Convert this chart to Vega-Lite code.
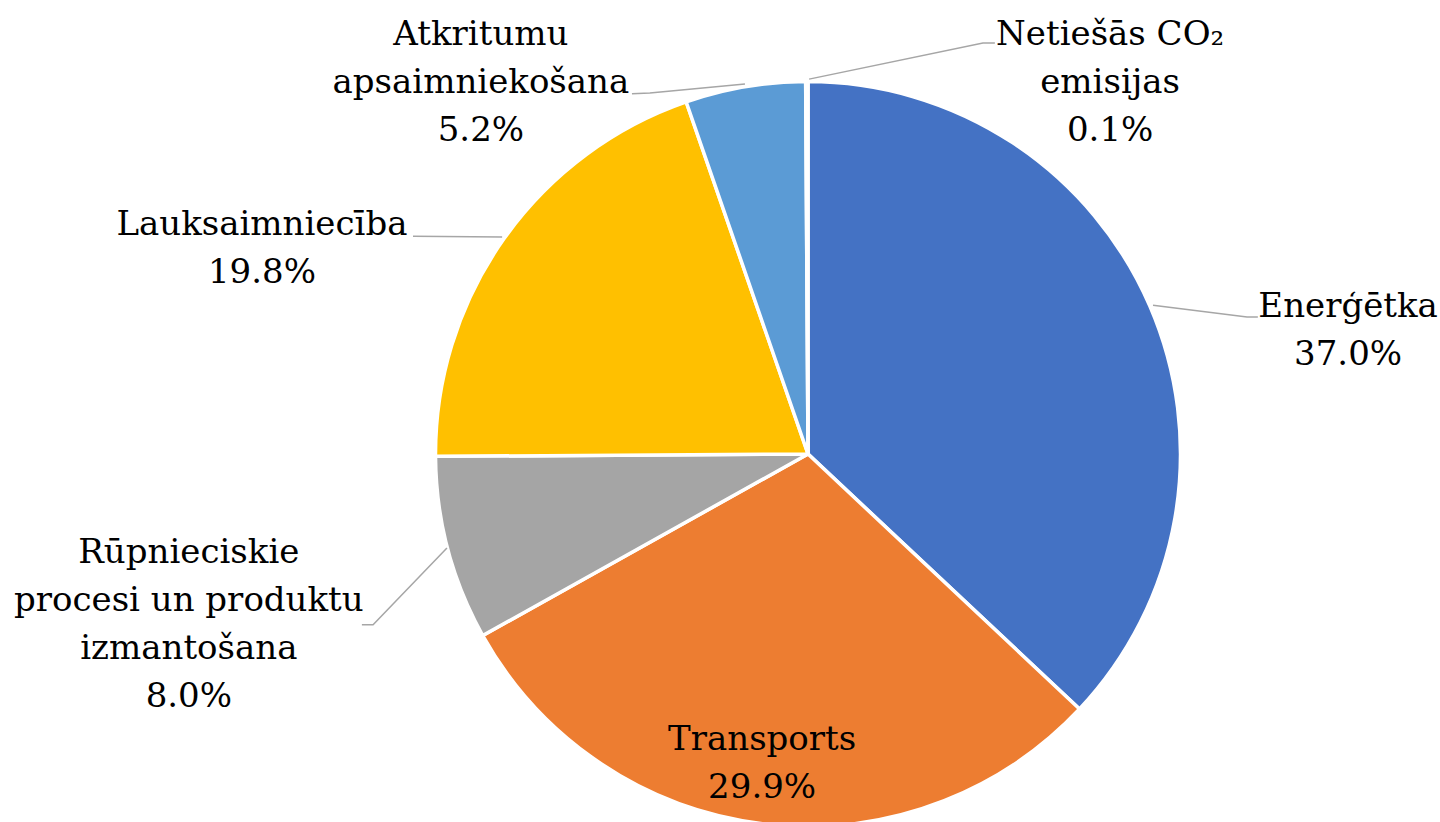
{
  "$schema": "https://vega.github.io/schema/vega-lite/v6.json",
  "width": 1440,
  "height": 822,
  "autosize": "none",
  "padding": 0,
  "background": "white",
  "config": {"view": {"stroke": null}, "font": "DejaVu Serif", "text": {"font": "DejaVu Serif"}},
  "datasets": {
    "sectors": [
      {"idx": 1, "cat": "Enerģētka", "value": 37.0, "label": "Enerģētka\n37.0%", "lx": 1.448, "ly": 0.367},
      {"idx": 2, "cat": "Transports", "value": 29.9, "label": "Transports\n29.9%", "lx": -0.123, "ly": -0.794},
      {"idx": 3, "cat": "Rūpnieciskie procesi un produktu izmantošana", "value": 8.0, "label": "Rūpnieciskie\nprocesi un produktu\nizmantošana\n8.0%", "lx": -1.660, "ly": -0.292},
      {"idx": 4, "cat": "Lauksaimniecība", "value": 19.8, "label": "Lauksaimniecība\n19.8%", "lx": -1.464, "ly": 0.587},
      {"idx": 5, "cat": "Atkritumu apsaimniekošana", "value": 5.2, "label": "Atkritumu\napsaimniekošana\n5.2%", "lx": -0.877, "ly": 1.097},
      {"idx": 6, "cat": "Netiešās CO₂ emisijas", "value": 0.1, "label": "Netiešās CO₂\nemisijas\n0.1%", "lx": 0.810, "ly": 1.097}
    ],
    "leaders": [
      {"leader": "E", "ord": 1, "lx": 0.925, "ly": 0.399},
      {"leader": "E", "ord": 2, "lx": 1.177, "ly": 0.367},
      {"leader": "E", "ord": 3, "lx": 1.206, "ly": 0.367},
      {"leader": "R", "ord": 1, "lx": -0.968, "ly": -0.252},
      {"leader": "R", "ord": 2, "lx": -1.166, "ly": -0.458},
      {"leader": "R", "ord": 3, "lx": -1.196, "ly": -0.458},
      {"leader": "L", "ord": 1, "lx": -0.820, "ly": 0.582},
      {"leader": "L", "ord": 2, "lx": -1.059, "ly": 0.584},
      {"leader": "A", "ord": 1, "lx": -0.169, "ly": 0.992},
      {"leader": "A", "ord": 2, "lx": -0.424, "ly": 0.968},
      {"leader": "A", "ord": 3, "lx": -0.472, "ly": 0.966},
      {"leader": "N", "ord": 1, "lx": 0.003, "ly": 1.005},
      {"leader": "N", "ord": 2, "lx": 0.469, "ly": 1.102},
      {"leader": "N", "ord": 3, "lx": 0.501, "ly": 1.102}
    ]
  },
  "layer": [
    {
      "data": {"name": "sectors"},
      "mark": {"type": "arc", "outerRadius": 372.5, "stroke": "white", "strokeWidth": 3.5},
      "encoding": {
        "x": {"datum": 0, "type": "quantitative", "scale": {"domain": [-2.16622, 1.69437], "nice": false, "zero": false}, "axis": null},
        "y": {"datum": 0, "type": "quantitative", "scale": {"domain": [-0.98660, 1.21716], "nice": false, "zero": false}, "axis": null},
        "theta": {"field": "value", "type": "quantitative", "stack": true},
        "order": {"field": "idx", "type": "quantitative"},
        "color": {
          "field": "cat",
          "type": "nominal",
          "scale": {
            "domain": ["Enerģētka", "Transports", "Rūpnieciskie procesi un produktu izmantošana", "Lauksaimniecība", "Atkritumu apsaimniekošana", "Netiešās CO₂ emisijas"],
            "range": ["#4472C4", "#ED7D31", "#A5A5A5", "#FFC000", "#5B9BD5", "#70AD47"]
          },
          "legend": null
        }
      }
    },
    {
      "data": {"name": "leaders"},
      "mark": {"type": "line", "stroke": "#A6A6A6", "strokeWidth": 1.5},
      "encoding": {
        "x": {"field": "lx", "type": "quantitative", "scale": {"domain": [-2.16622, 1.69437], "nice": false, "zero": false}, "axis": null},
        "y": {"field": "ly", "type": "quantitative", "scale": {"domain": [-0.98660, 1.21716], "nice": false, "zero": false}, "axis": null},
        "detail": {"field": "leader"},
        "order": {"field": "ord", "type": "quantitative"}
      }
    },
    {
      "data": {"name": "sectors"},
      "mark": {"type": "text", "font": "DejaVu Serif", "fontSize": 34, "lineHeight": 48, "lineBreak": "\n", "align": "center", "baseline": "alphabetic", "color": "black"},
      "encoding": {
        "x": {"field": "lx", "type": "quantitative", "scale": {"domain": [-2.16622, 1.69437], "nice": false, "zero": false}, "axis": null},
        "y": {"field": "ly", "type": "quantitative", "scale": {"domain": [-0.98660, 1.21716], "nice": false, "zero": false}, "axis": null},
        "text": {"field": "label"}
      }
    }
  ]
}
